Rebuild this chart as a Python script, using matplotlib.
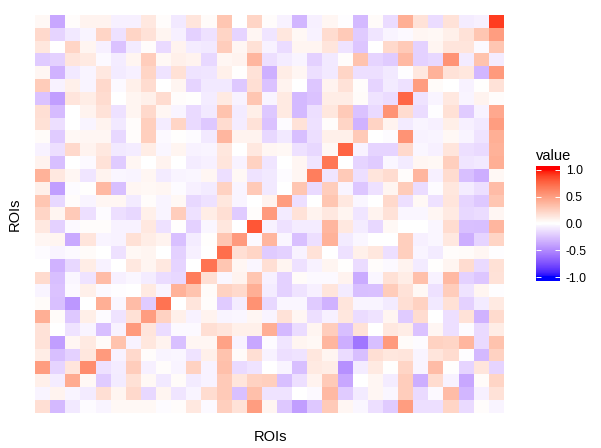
"""Heatmap of ROI correlations with a ggplot-style gradient legend."""

import numpy as np
import matplotlib
matplotlib.use("Agg")
import matplotlib.pyplot as plt
from matplotlib.colors import ListedColormap, Normalize

plt.rcParams['font.family'] = ['Liberation Sans', 'DejaVu Sans']

W, H = 601, 448

# rows are listed top to bottom, columns left to right
rows = [
    [.04,-.38,.02,.07,.07,-.07,-.07,.12,.02,-.1,.14,.03,.3,0,.22,.02,-.06,-.32,-.07,.05,-.01,-.3,.03,-.15,.42,.15,-.15,.15,-.08,-.07,.9],
    [.2,-.18,-.1,-.05,.22,-.13,.22,.15,.06,-.07,-.2,-.13,.22,-.18,.05,-.11,.13,.04,-.06,.18,.28,-.22,-.11,-.05,-.03,.05,.04,.08,.15,.3,.5],
    [.13,0,.22,.06,-.07,-.26,-.09,.02,-.16,.07,-.08,-.1,.26,.05,.16,-.06,-.15,.06,.06,.14,-.12,-.25,0,.2,.28,-.2,.06,.14,.14,-.03,.3],
    [-.22,-.2,.14,.11,-.03,-.08,.06,.26,.04,.08,.07,-.17,.05,.07,.38,-.14,-.08,-.05,-.2,-.1,.02,.32,-.18,-.22,.36,-.2,-.17,.55,-.09,.32,-.08],
    [.05,-.33,-.1,-.05,.12,-.09,-.07,.22,-.12,.16,-.12,-.11,.08,.01,.15,-.34,.1,.05,-.14,-.1,.22,-.14,-.14,-.1,-.01,.12,.4,.15,.13,-.32,.52],
    [.27,-.06,.08,-.05,.2,-.03,.08,.18,0,.06,-.18,-.1,-.1,-.24,.17,-.26,.07,0,-.25,.07,.15,.02,-.18,-.09,-.13,.5,.03,0,-.06,.01,.15],
    [-.26,-.42,.14,.1,.18,0,.06,.08,.18,.02,.01,-.08,.11,-.06,.3,-.05,.11,-.3,-.26,.1,.1,.03,-.12,-.15,.75,-.12,-.05,.12,-.05,.07,.02],
    [.17,-.29,0,.07,.15,-.13,.06,.2,.05,-.05,-.16,-.1,.32,-.09,.09,-.24,.11,-.3,-.14,.13,.28,-.26,-.16,.55,.18,-.15,-.01,.16,-.22,-.06,.45],
    [.16,-.14,0,-.05,.07,-.1,.02,.25,-.08,.22,-.16,-.24,.18,-.08,.15,-.26,-.02,.15,-.13,.02,.22,-.33,.23,.07,-.09,-.05,-.07,.09,-.07,-.1,.5],
    [.03,-.22,.04,.05,.05,-.17,.02,.25,-.03,.01,-.02,-.1,.38,.07,.07,-.17,-.1,-.28,-.14,.08,.08,.28,0,-.02,.55,-.06,-.05,.04,-.05,-.12,.42],
    [-.06,-.14,.2,.07,.12,-.1,-.08,.1,-.04,.06,-.06,-.05,.13,0,.12,.05,.04,-.13,-.17,.04,.76,-.06,-.18,-.18,.2,-.04,-.07,.14,-.14,-.16,.4],
    [.07,-.28,0,-.03,.15,-.22,.05,0,.07,0,-.08,-.07,.14,-.06,.24,-.11,0,.05,-.11,.68,0,-.18,-.22,-.04,-.09,.05,.04,.25,-.11,-.1,.42],
    [.4,.12,.05,-.11,.07,-.04,-.05,.05,-.09,-.05,-.04,.05,-.14,.04,-.12,-.1,-.02,.05,.65,-.11,.28,-.14,.14,.18,.02,.38,-.07,.18,-.28,-.35,.04],
    [.08,-.42,-.02,.01,.36,-.28,.05,.04,.05,-.02,-.07,-.09,.24,-.05,.28,-.1,0,.3,-.16,.26,-.05,-.25,-.13,.06,.27,-.15,-.02,.13,-.08,-.14,.35],
    [.3,-.17,.02,-.05,.05,.05,-.09,.02,-.05,.04,-.17,-.13,.13,-.05,0,.07,.5,-.14,0,.3,.12,-.04,0,.2,-.14,.04,-.13,.14,-.18,-.24,.3],
    [.22,.06,.28,-.14,-.02,-.14,-.17,.08,-.05,.26,-.13,.1,.17,-.22,.02,.52,-.09,.15,.07,.12,.06,-.11,.07,.15,-.04,-.04,.05,.11,-.17,-.15,.05],
    [.12,-.2,-.03,.02,.02,-.06,-.06,.12,-.13,.01,-.2,-.04,.13,0,.82,-.06,-.13,-.08,-.08,.38,.12,-.08,-.17,.04,0,0,-.04,.18,-.27,-.28,.38],
    [.05,.06,-.37,.14,-.05,-.06,.16,.1,.07,-.27,-.08,.01,.3,.52,-.03,.38,-.04,-.27,-.14,.4,-.09,-.04,0,0,.25,-.07,-.04,.12,-.35,-.18,.22],
    [-.02,-.05,-.03,.03,0,-.13,.04,.06,0,-.2,-.07,0,.72,.17,.22,-.22,-.2,-.06,.15,0,-.13,.08,.13,-.14,.25,-.05,-.09,.02,.03,.05,-.01],
    [0,-.33,-.17,.1,-.06,0,.12,.06,.12,-.18,0,.7,.3,.05,-.04,.17,.06,-.13,-.06,.06,.01,-.15,.02,-.03,.07,-.09,.01,.06,.18,-.16,.16],
    [.19,-.28,-.04,-.12,.35,-.07,-.04,-.08,-.15,-.17,.66,.17,-.04,.07,.3,-.07,-.2,.03,-.03,-.03,.07,-.36,-.04,.16,.1,.33,-.06,.36,-.2,-.25,.15],
    [-.05,-.26,-.03,.08,-.03,-.01,0,.11,-.05,.4,.32,.03,.24,.2,.42,-.08,-.2,-.12,-.07,.14,-.09,-.28,-.27,.27,.15,.04,-.13,.26,-.12,.06,-.01],
    [.03,-.27,-.45,0,.42,-.04,.35,-.22,.7,0,.14,.02,-.22,-.08,.56,-.17,-.04,-.04,-.22,-.33,.14,-.05,-.05,-.09,.17,.24,-.1,.16,-.2,-.09,.11],
    [.42,.03,-.24,.09,-.02,-.12,.16,.5,.24,.08,-.06,.07,-.05,-.04,.05,-.05,.15,.05,-.14,-.07,.13,-.15,-.12,.06,-.22,.18,0,-.14,.15,-.33,.19],
    [.15,0,-.12,-.05,-.28,-.06,.52,.14,-.15,-.03,-.03,.17,.14,.08,.08,.42,-.3,-.15,.06,.26,-.28,.15,0,.12,.1,-.26,.05,-.14,-.02,-.16,.1],
    [.15,-.42,.05,.11,.03,.32,-.06,.13,.07,-.27,.05,.05,.48,-.06,-.38,-.02,-.11,.06,.04,.38,-.35,-.6,-.28,.52,.03,-.02,.24,.22,.38,-.16,.32],
    [.1,-.28,-.2,.13,.52,-.06,.2,.02,-.05,-.04,-.12,.08,.32,.03,.17,-.06,-.14,-.12,.13,.06,-.15,-.28,.17,.13,.14,-.05,.14,.18,-.01,-.3,.24],
    [.5,-.18,.14,.58,-.13,-.08,.26,-.07,.02,-.05,.24,-.06,.33,-.16,-.12,0,-.05,-.28,.11,.1,-.48,-.08,.11,.01,.22,-.05,.35,.01,-.18,.14,-.18],
    [.08,-.08,.43,.04,-.22,-.09,.16,.04,-.1,.03,-.09,-.06,.28,.14,.24,.25,-.28,-.14,.07,.28,-.38,0,.05,-.08,.26,-.35,.18,-.06,-.38,.03,.22],
    [-.05,.07,-.05,-.09,.17,.06,.2,-.17,.06,-.11,-.05,.18,.28,-.27,.33,-.12,-.12,0,-.03,.36,-.22,-.09,.05,-.04,.26,-.16,-.03,.35,-.32,-.07,.15],
    [.17,-.3,-.1,-.02,-.05,.04,.04,.04,-.02,.02,.12,-.03,.25,.15,.5,.06,-.24,-.42,-.24,.28,.05,-.04,-.14,-.22,.5,-.14,-.14,.22,-.16,.02,-.05],
]
legend_ticks = [-1.0, -0.5, 0.0, 0.5, 1.0]
legend_labels = ['-1.0', '-0.5', '0.0', '0.5', '1.0']


def lab_to_rgb(lab):
    # CIELAB to sRGB, ggplot's gradient is interpolated in Lab
    L, a, b = lab[:, 0], lab[:, 1], lab[:, 2]
    fy = (L + 16) / 116
    f = np.stack([fy + a / 500, fy, fy - b / 200], axis=1)
    xyz = np.where(f > 6 / 29, f ** 3, 3 * (6 / 29) ** 2 * (f - 4 / 29))
    xyz = xyz * np.array([0.95047, 1.0, 1.08883])
    m = np.array([[3.2406, -1.5372, -0.4986],
                  [-0.9689, 1.8758, 0.0415],
                  [0.0557, -0.2040, 1.0570]])
    rgb = np.clip(xyz @ m.T, 0, 1)
    return np.where(rgb > 0.0031308, 1.055 * rgb ** (1 / 2.4) - 0.055, 12.92 * rgb)


white = np.array([100.0, 0.0, 0.0])
red = np.array([53.24, 80.09, 67.20])
blue = np.array([32.30, 79.19, -107.86])
t = np.linspace(0, 1, 128)[:, None]
cmap = ListedColormap(np.vstack([
    lab_to_rgb(blue + (white - blue) * t),
    lab_to_rgb(white + (red - white) * t),
]))
norm = Normalize(-1, 1)


def px_axes(fig, left, top, right, bottom):
    return fig.add_axes([left / W, 1 - bottom / H, (right - left) / W, (bottom - top) / H])


fig = plt.figure(figsize=(W / 100, H / 100), dpi=100)

ax = px_axes(fig, 35, 15, 504, 412.7)
values = np.array(rows)[::-1]
ax.pcolormesh(np.arange(values.shape[1] + 1), np.arange(values.shape[0] + 1), values,
              cmap=cmap, norm=norm, antialiased=False, linewidth=0)
ax.axis('off')

fig.text(270.5 / W, 1 - 441 / H, 'ROIs', ha='center', va='baseline', fontsize=10.5, color='black')
fig.text(15 / W, 1 - 214 / H, 'ROIs', ha='center', va='center', rotation=90, fontsize=10.5, color='black')

# legend bar, 54 px per unit around the zero at y=224
cax = px_axes(fig, 536, 166, 559.5, 281)
bar = np.linspace(1.07, -1.07, 230)[:, None]
cax.imshow(bar, cmap=cmap, norm=norm, aspect='auto', extent=[0, 1, -1.07, 1.07],
           interpolation='nearest')
cax.set_xlim(0, 1)
cax.set_ylim(-1.07, 1.07)
cax.set_xticks([])
cax.set_yticks([])
for side in cax.spines.values():
    side.set_visible(False)
for v in legend_ticks:
    cax.plot([0, 0.2], [v, v], color='white', lw=0.7, solid_capstyle='butt')
    cax.plot([0.8, 1], [v, v], color='white', lw=0.7, solid_capstyle='butt')

for v, lab in zip(legend_ticks, legend_labels):
    y = 224.5 - 54 * v
    fig.text(566 / W, 1 - y / H, lab, ha='left', va='center', fontsize=8.8, color='black')
fig.text(536 / W, 1 - 156 / H, 'value', ha='left', va='center', fontsize=10.5, color='black')

fig.savefig('out.png', dpi=100)
